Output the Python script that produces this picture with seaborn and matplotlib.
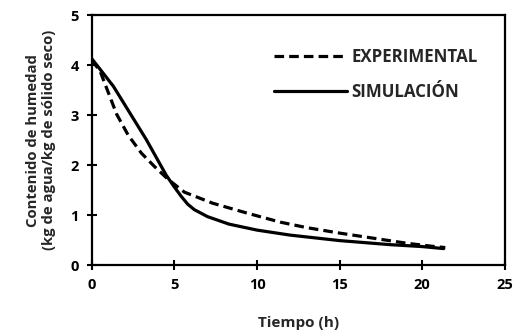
import matplotlib
matplotlib.use("Agg")
import matplotlib.pyplot as plt
import seaborn as sns
import pandas as pd

# Data
t_exp = [0.0, 0.5, 1.0, 1.5, 2.2, 3.0, 3.8, 4.6, 5.6, 7.3, 9.4, 11.4, 13.0, 15.0, 17.0, 19.0, 20.5, 21.4]
y_exp = [4.10, 3.88, 3.45, 3.02, 2.60, 2.24, 1.97, 1.72, 1.46, 1.24, 1.04, 0.86, 0.75, 0.64, 0.54, 0.44, 0.38, 0.35]
t_sim = [0.0, 1.3, 3.3, 4.5, 5.0, 5.4, 5.8, 6.2, 7.0, 8.3, 10.0, 12.0, 15.0, 18.0, 20.0, 21.3]
y_sim = [4.13, 3.58, 2.51, 1.80, 1.56, 1.38, 1.22, 1.11, 0.97, 0.82, 0.70, 0.60, 0.49, 0.41, 0.37, 0.33]
labels = ["EXPERIMENTAL", "SIMULACIÓN"]
x_ticks = [0, 5, 10, 15, 20, 25]
y_ticks = [0, 1, 2, 3, 4, 5]

sns.set_style("white")
plt.rcParams['font.family'] = ['Open Sans', 'DejaVu Sans']
plt.rcParams['font.weight'] = 'bold'

fig = plt.figure(figsize=(5.22, 3.33), dpi=100)
ax = fig.add_axes([0.176, 0.204, 0.791, 0.750])

df_exp = pd.DataFrame({"t": t_exp, "y": y_exp})
df_sim = pd.DataFrame({"t": t_sim, "y": y_sim})
sns.lineplot(data=df_exp, x="t", y="y", ax=ax, color="black", lw=2.3,
             linestyle=(0, (3.0, 1.6)), label=labels[0], sort=False)
sns.lineplot(data=df_sim, x="t", y="y", ax=ax, color="black", lw=2.3,
             label=labels[1], sort=False)

ax.set_xlim(0, 25)
ax.set_ylim(0, 5)
ax.set_xticks(x_ticks)
ax.set_yticks(y_ticks)
ax.tick_params(direction="inout", length=7, width=1.5, labelsize=10.5, pad=6,
               bottom=True, left=True, top=False, right=False, colors="black")
for lab in ax.get_xticklabels() + ax.get_yticklabels():
    lab.set_fontweight("bold")
for s in ax.spines.values():
    s.set_linewidth(1.6)
    s.set_color("black")

ax.set_xlabel("Tiempo (h)", fontsize=11, fontweight="bold", labelpad=17)
ax.set_ylabel("Contenido de humedad\n(kg de agua/kg de sólido seco)", fontsize=10.7,
              fontweight="bold", labelpad=10, linespacing=1.25)

leg = ax.legend(loc="upper right", bbox_to_anchor=(0.935, 0.87), frameon=False,
                borderaxespad=0, borderpad=0,
                handlelength=4.3, labelspacing=1.0, handletextpad=0.3,
                prop={"weight": "bold", "size": 12.2})

fig.savefig("out.png", dpi=100)
